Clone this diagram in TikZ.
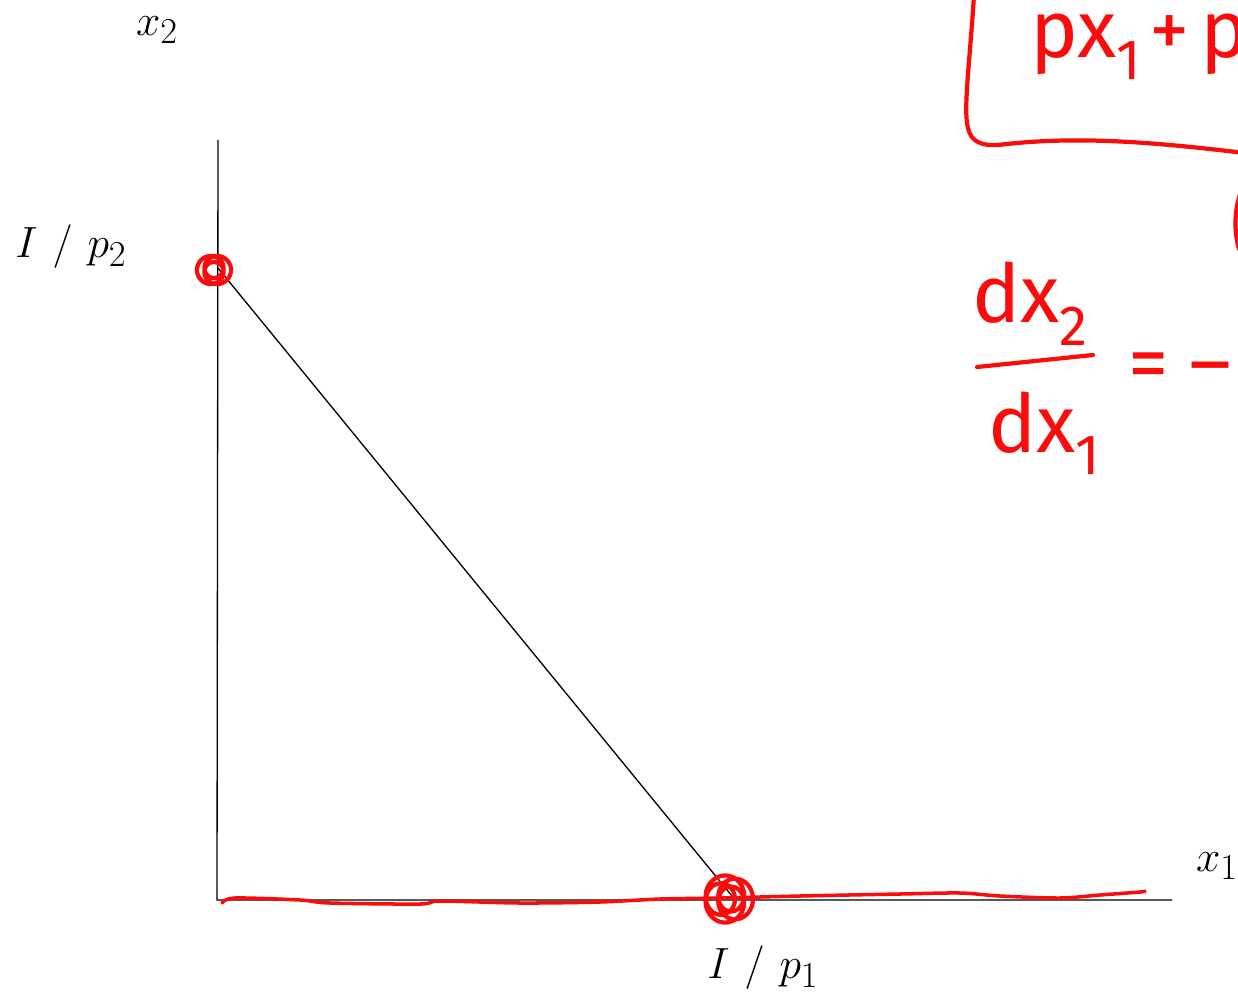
\documentclass[tikz,border=0pt]{standalone}
\usepackage{amsmath}
\usepackage{fontspec}
\usepackage{tikz}
\usetikzlibrary{positioning,calc}
\definecolor{inkred}{RGB}{250,12,12}
\newfontfamily\inkfont{Fira Sans}

\begin{document}
\begin{tikzpicture}[x=0.02cm, y=-0.02cm, every node/.style={font=\fontsize{28}{32}\selectfont}]
  \tikzstyle{axis}=[line width=0.75pt]
  \tikzstyle{ink}=[draw=inkred, line width=2.4pt, line cap=round, line join=round]
  \tikzstyle{inktext}=[text=inkred, inner sep=0pt, font=\inkfont\fontsize{46}{50}\selectfont]
  \useasboundingbox (0,0) rectangle (1238,998);
  % axes and budget line
  \coordinate (origin) at (217,900);
  \coordinate (ytop) at (218,140);
  \coordinate (xend) at (1172,900);
  \coordinate (ycut) at (218,268);
  \coordinate (xcut) at (732,896);
  \draw[axis] (ytop) -- (origin) -- (xend);
  \draw[axis] (ycut) -- (xcut);
  \node (xtwo) at (157,30) {$x_2$};
  \node (xone) at (1217,866) {$x_1$};
  \node (ptwo) at (71,247) {$I\ /\ p_2$};
  \node (pone) at (763,968) {$I\ /\ p_1$};
  % ink marks on the graph
  \draw[ink] plot[domain=0:1080, samples=130, smooth] ({214 + 5*cos(\x/3) + 12*cos(\x)}, {270 + 4*sin(\x/3) + 12*sin(\x)});
  \draw[ink] plot[domain=0:1440, samples=170, smooth] ({728 + 9*cos(\x/4) + 16*cos(\x)}, {899 + 6*sin(\x/4) + 18*sin(\x)});
  \draw[ink, line width=2pt] plot[smooth] coordinates {(222,903) (235,898) (300,900) (330,903) (420,904) (440,901) (520,903) (600,902) (660,899) (720,898) (800,896) (900,894) (960,893) (1000,896) (1060,898) (1100,895) (1140,892) (1145,891)};
  % boxed budget equation
  \draw[ink] (974,-5) .. controls (970,60) and (963,110) .. (968,128) .. controls (971,142) and (982,146) .. (998,145) .. controls (1080,135) and (1160,143) .. (1245,153);
  \node[inktext, anchor=base west] (budget) at (1030,57) {px\textsubscript{1}\kern4pt+\kern6pt p};
  \draw[ink] (1241,192) .. controls (1234,210) and (1234,232) .. (1239,249);
  % slope of the line
  \node[inktext, anchor=base west] (num) at (972,322) {dx\textsubscript{2}};
  \node[inktext, anchor=base west] (den) at (988,452) {dx\textsubscript{1}};
  \coordinate (barl) at (977,367);
  \coordinate (barr) at (1093,355);
  \draw[ink] (barl) -- (barr);
  \node[inktext] (eq) at (1180,372) {= –};
\end{tikzpicture}
\end{document}
